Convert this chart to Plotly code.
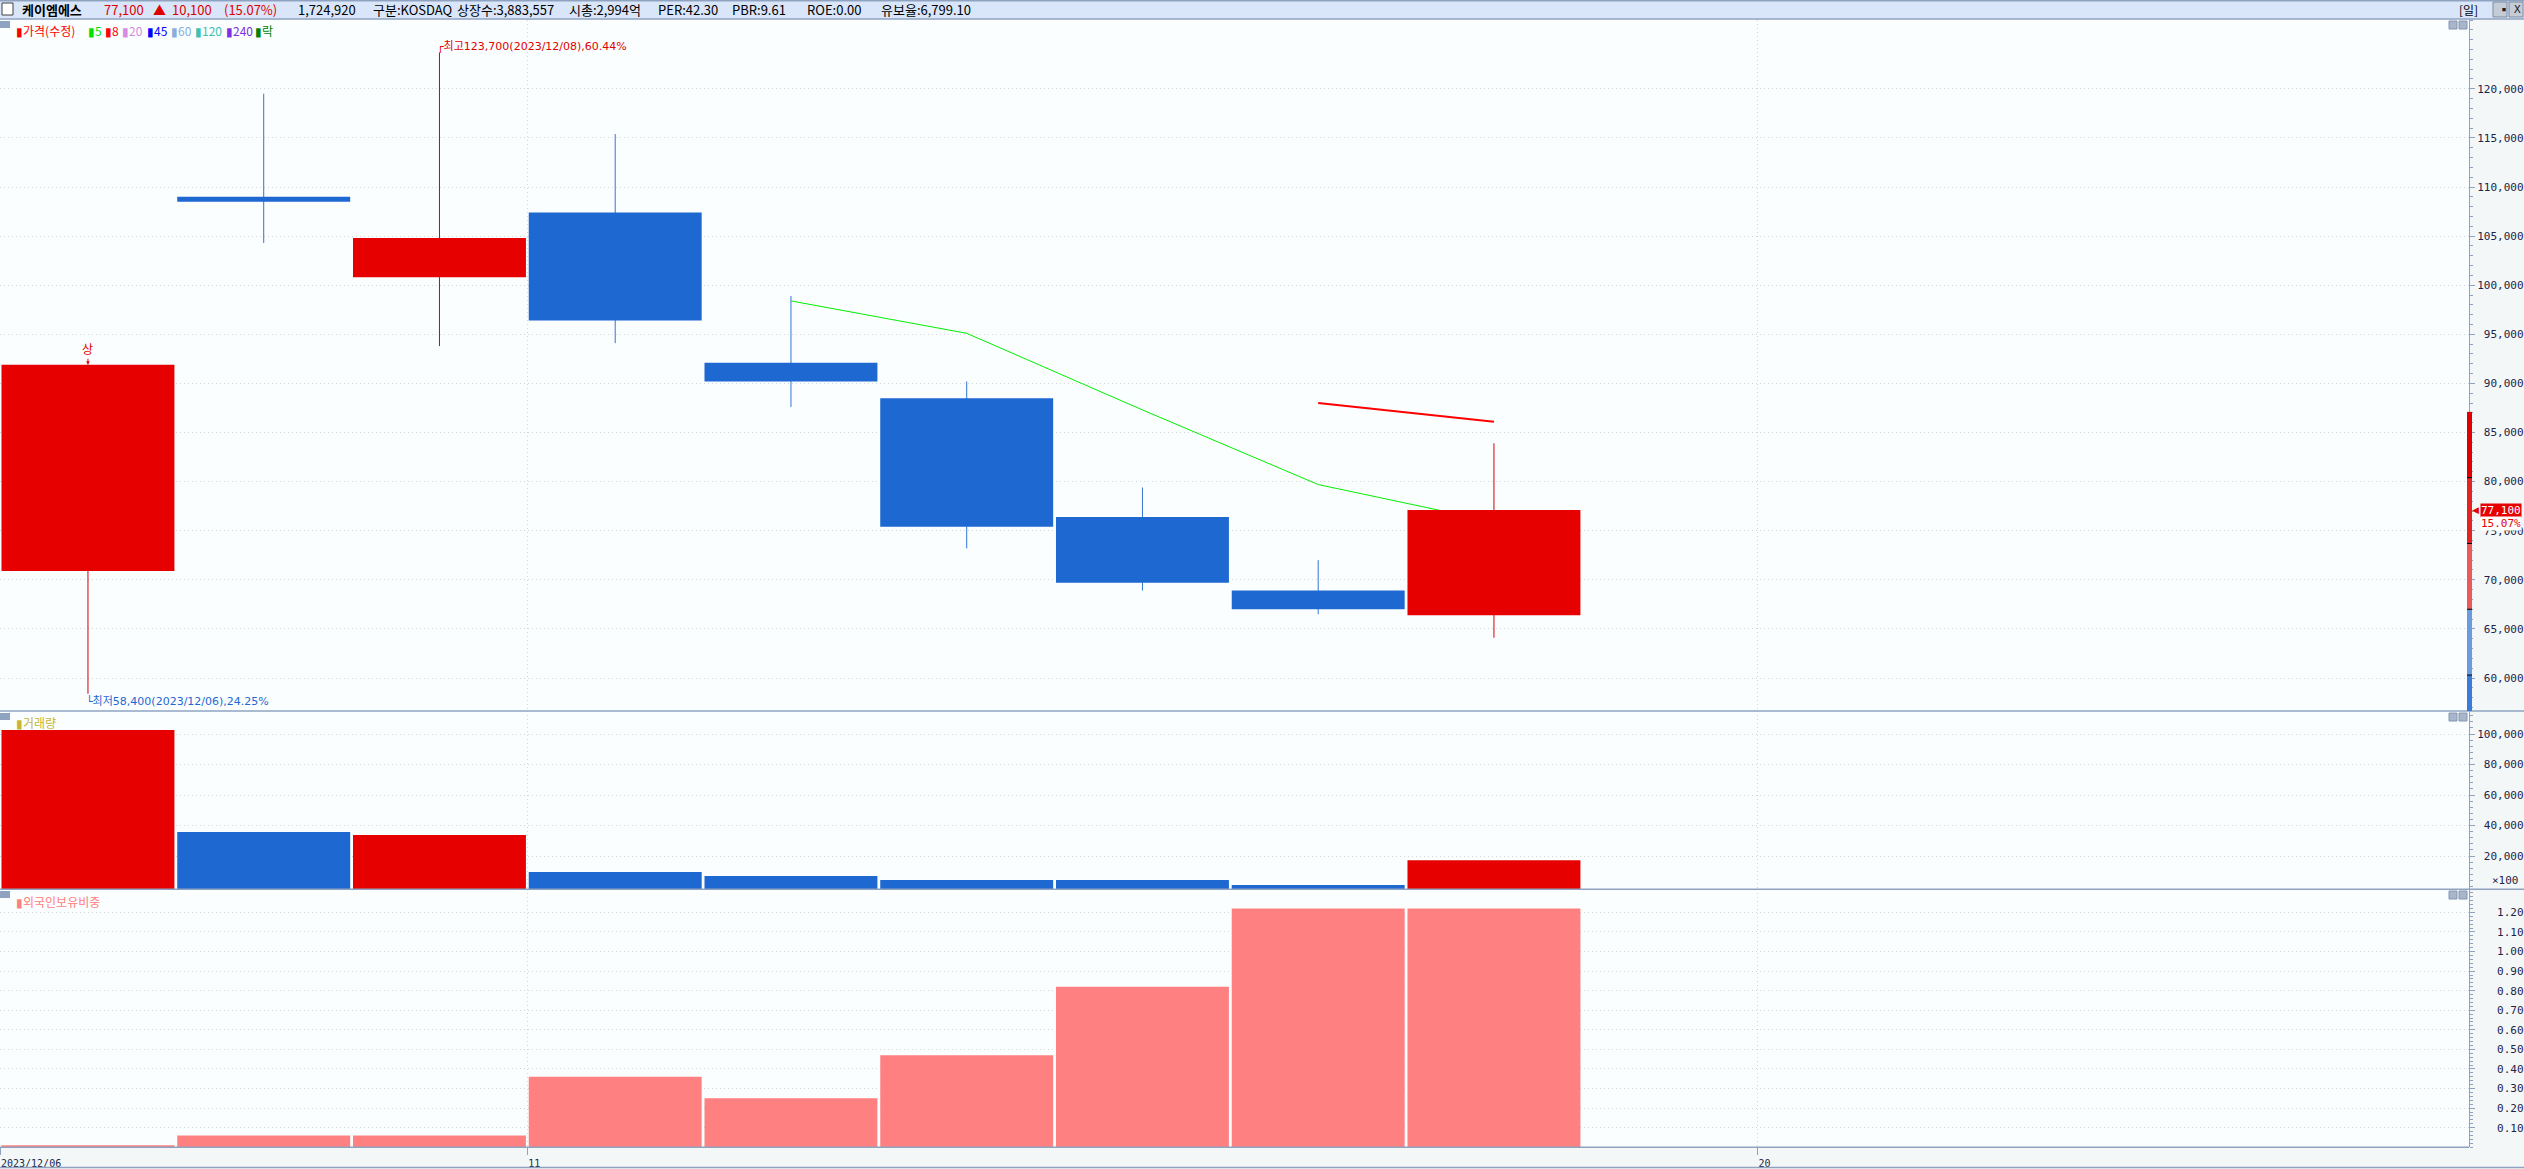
import plotly.graph_objects as go

# ---------------- data ----------------
dates = ["2023/12/06", "2023/12/07", "2023/12/08", "2023/12/11", "2023/12/12",
         "2023/12/13", "2023/12/14", "2023/12/15", "2023/12/18"]
open_p = [70900, 109000, 100800, 107400, 92100, 88500, 76400, 68900, 66400]
high_p = [91900, 119500, 123700, 115400, 98900, 90200, 79400, 72000, 83900]
low_p = [58400, 104300, 93800, 94100, 87600, 73200, 68900, 66500, 64100]
close_p = [91900, 108500, 104800, 96400, 90200, 75400, 69700, 67000, 77100]
volume = [102600, 35700, 33800, 9500, 6900, 4300, 4300, 1000, 17249]   # x100
foreign_pct = [0.01, 0.06, 0.06, 0.36, 0.25, 0.47, 0.82, 1.22, 1.22]
ma5 = [98400, 95100, 87300, 79700, 75900]      # from the 5th day
ma8 = [88000, 86100]                           # from the 8th day
limit_edges = [87100, 80400, 73700, 67000, 60300]

price_ticks = [60000, 65000, 70000, 75000, 80000, 85000, 90000, 95000,
               100000, 105000, 110000, 115000, 120000]
vol_ticks = [20000, 40000, 60000, 80000, 100000]
foreign_ticks = [0.1, 0.2, 0.3, 0.4, 0.5, 0.6, 0.7, 0.8, 0.9, 1.0, 1.1, 1.2]
x_tick_slots = [0, 3, 10]
x_tick_text = ["2023/12/06", "11", "20"]

# ---------------- look ----------------
W, H = 2524, 1169
RED, BLUE = "#e60000", "#1e68d2"
AXC = "#8fa3c0"
GRID = "#d2d6da"
TXT = "#1c2448"
MONO = "DejaVu Sans Mono"
KF = "Noto Sans CJK KR"
NB = "\u00a0"

PRICE_RANGE = [56640, 127006]
VOL_RANGE = [-1836, 115080]
FOR_RANGE = [0, 1.3177]
X_RANGE = [-0.5005, 13.548]
HALF = 0.492


def px(v):
    return v / W


def py(v):
    return 1 - v / H


slots = list(range(len(dates)))
up = [c >= o for o, c in zip(open_p, close_p)]
colors = [RED if u else BLUE for u in up]

fig = go.Figure()

# wicks
for flag, col in ((True, "#d40000"), (False, "#3474d4")):
    wx, wy = [], []
    for i in slots:
        if up[i] == flag:
            wx += [i, i, None]
            wy += [low_p[i], high_p[i], None]
    fig.add_trace(go.Scatter(x=wx, y=wy, mode="lines", line=dict(color=col, width=1),
                             hoverinfo="skip", showlegend=False))

# moving averages (drawn below the candle bodies)
fig.add_trace(go.Scatter(x=slots[4:], y=ma5, mode="lines",
                         line=dict(color="#00f000", width=1), showlegend=False))
fig.add_trace(go.Scatter(x=slots[7:], y=ma8, mode="lines",
                         line=dict(color="#ff0000", width=2), showlegend=False))

# candle bodies as filled boxes
for flag, col in ((True, RED), (False, BLUE)):
    bx, by = [], []
    for i in slots:
        if up[i] == flag:
            o, c = open_p[i], close_p[i]
            bx += [i - HALF, i + HALF, i + HALF, i - HALF, i - HALF, None]
            by += [o, o, c, c, o, None]
    fig.add_trace(go.Scatter(x=bx, y=by, mode="lines", fill="toself", fillcolor=col,
                             line=dict(width=0, color=col), hoverinfo="skip",
                             showlegend=False))

# volume
fig.add_trace(go.Bar(x=slots, y=[v - VOL_RANGE[0] for v in volume], base=VOL_RANGE[0],
                     width=2 * HALF, marker=dict(color=colors, line=dict(width=0)),
                     xaxis="x2", yaxis="y2", showlegend=False))

# foreign ownership
fig.add_trace(go.Bar(x=slots, y=foreign_pct, width=2 * HALF,
                     marker=dict(color="#ff8080", line=dict(width=0)),
                     xaxis="x3", yaxis="y3", showlegend=False))

x_grid = [s - 0.5 for s in x_tick_slots]
xcommon = dict(domain=[0, px(2469)], range=X_RANGE, tickmode="array", tickvals=x_grid,
               showgrid=True, gridcolor=GRID, griddash="1px,3px", gridwidth=1,
               zeroline=False, showline=False, fixedrange=True)


def ycommon(dom, rng, vals, text, minor_dt):
    return dict(domain=dom, range=rng, side="right", tickmode="array", tickvals=vals,
                ticktext=text, ticks="outside", ticklen=5, tickcolor=AXC,
                minor=dict(dtick=minor_dt, ticks="outside", ticklen=3, tickcolor=AXC,
                           showgrid=False),
                showgrid=True, gridcolor=GRID, griddash="1px,3px", gridwidth=1,
                zeroline=False, showline=True, linecolor=AXC, linewidth=1,
                tickfont=dict(family=MONO, size=11, color=TXT), fixedrange=True)


def pad(s, n):
    return NB * (n - len(s)) + s


price_text = [pad(f"{v:,}", 7) for v in price_ticks]
vol_text = [pad(f"{v:,}", 7) for v in vol_ticks]
for_text = [pad(f"{v:.2f}", 7) for v in foreign_ticks]
x_text = [t + NB * (10 - len(t)) for t in x_tick_text]

fig.update_layout(
    width=W, height=H, margin=dict(l=0, r=0, t=0, b=0),
    paper_bgcolor="#f3f7f7", plot_bgcolor="#fbfefe", barmode="overlay",
    showlegend=False, hovermode=False,
    xaxis=dict(xcommon, anchor="y", showticklabels=False, ticks=""),
    xaxis2=dict(xcommon, anchor="y2", matches="x", showticklabels=False, ticks=""),
    xaxis3=dict(xcommon, anchor="y3", matches="x", showticklabels=True, ticktext=x_text,
                ticks="outside", ticklen=7, tickcolor=AXC, ticklabelshift=31,
                ticklabeloverflow="allow",
                tickfont=dict(family=MONO, size=10, color=TXT)),
    yaxis=ycommon([py(711), py(20)], PRICE_RANGE, price_ticks, price_text, 1000),
    yaxis2=ycommon([py(889.3), py(711)], VOL_RANGE, vol_ticks, vol_text, 4000),
    yaxis3=ycommon([py(1147.3), py(889.3)], FOR_RANGE, foreign_ticks, for_text, 0.02),
)

shapes = []


def rect(x0, y0, x1, y1, fill, line=None):
    shapes.append(dict(type="rect", xref="paper", yref="paper", x0=px(x0), x1=px(x1),
                       y0=py(y0), y1=py(y1), fillcolor=fill,
                       line=dict(width=1 if line else 0, color=line or fill)))


def hline(y, x0, x1, col=AXC, w=1.5):
    shapes.append(dict(type="line", xref="paper", yref="paper", x0=px(x0), x1=px(x1),
                       y0=py(y), y1=py(y), line=dict(color=col, width=w)))


# header bar
rect(0, 0, W, 19, "#d9e6fa")
hline(0.7, 0, W)
hline(19, 0, W)
rect(2, 3, 13, 15, "#ffffff", "#404040")
rect(2493, 2, 2507, 17, "#c4ccd8", "#7d8aa0")
rect(2509, 2, 2523, 17, "#c4ccd8", "#7d8aa0")

# panel separators
hline(711, 0, W)
hline(889.3, 0, W)
hline(1147.3, 0, 2469)
hline(1167.5, 0, W)

# panel handles and buttons
for top in (21, 713, 891):
    rect(0, top, 10, top + 7, AXC)
    rect(2449, top, 2457, top + 8, "#a8b6cc", "#8696b0")
    rect(2459, top, 2467, top + 8, "#a8b6cc", "#8696b0")

# price limit band on the right axis
band_cols = ["#e00000", "#e42222", "#ea5a5a", "#6a9ae0", "#3a7ad8"]
edges = limit_edges + [PRICE_RANGE[0]]
for k, col in enumerate(band_cols):
    shapes.append(dict(type="rect", xref="paper", yref="y", x0=px(2467), x1=px(2472),
                       y0=edges[k + 1], y1=edges[k], fillcolor=col, line=dict(width=0)))
for e in limit_edges[1:]:
    shapes.append(dict(type="line", xref="paper", yref="y", x0=px(2467), x1=px(2472),
                       y0=e, y1=e, line=dict(color="#000000", width=1)))
fig.update_layout(shapes=shapes)

ann = []


def text(s, x, y, col="#000000", size=12, fam=KF, **kw):
    d = dict(text=s, x=px(x), y=py(y), xref="paper", yref="paper", showarrow=False,
             xanchor="left", yanchor="middle", font=dict(family=fam, size=size, color=col))
    d.update(kw)
    ann.append(d)


# header texts
header = [("<b>케이엠에스</b>", 20, "#000000"), ("77,100", 102, "#e00000"),
          ("▲", 151, "#e00000"), ("10,100", 170, "#e00000"), ("(15.07%)", 222, "#e00000"),
          ("1,724,920", 296, "#000000"), ("구분:KOSDAQ", 371, "#000000"),
          ("상장수:3,883,557", 455, "#000000"), ("시총:2,994억", 567, "#000000"),
          ("PER:42.30", 656, "#000000"), ("PBR:9.61", 730, "#000000"),
          ("ROE:0.00", 805, "#000000"), ("유보율:6,799.10", 879, "#000000")]
for s, x, c in header:
    text(s, x, 10, c, 13)
text("[일]", 2457, 10, "#000000", 12)
text("▪", 2496, 10, "#202020", 12)
text("X", 2512, 10, "#202020", 11, MONO)

# price legend
legend = [("가격(수정)", "#ff0000", 14), ("5", "#00e000", 86), ("8", "#ff0000", 103),
          ("20", "#d68ae0", 120), ("45", "#0000ff", 145), ("60", "#88aee0", 169),
          ("120", "#40c0b0", 193), ("240", "#8030e0", 224), ("락", "#008000", 253)]
for s, c, x in legend:
    text("▮" + s, x, 30, c, 12)

text("▮거래량", 14, 722, "#c8b432", 12)
text("▮외국인보유비중", 14, 901, "#ff8080", 12)
text("×100", 2521, 880, TXT, 11, MONO, xanchor="right")

# price annotations
ann.append(dict(text="상", x=slots[0], y=high_p[0], xref="x", yref="y", showarrow=True,
                arrowhead=2, arrowsize=0.7, arrowwidth=1, arrowcolor="#e00000",
                ax=0, ay=-16, font=dict(family=KF, size=12, color="#e00000")))
hi_i = high_p.index(max(high_p))
lo_i = low_p.index(min(low_p))
ann.append(dict(text=f"┌최고{high_p[hi_i]:,}({dates[hi_i]}),60.44%", x=slots[hi_i],
                y=high_p[hi_i], xref="x", yref="y", showarrow=False, xanchor="left",
                yanchor="bottom", xshift=-4, yshift=-3,
                font=dict(family="DejaVu Sans, Noto Sans CJK KR", size=11, color="#e00000")))
ann.append(dict(text=f"└최저{low_p[lo_i]:,}({dates[lo_i]}),24.25%", x=slots[lo_i],
                y=low_p[lo_i], xref="x", yref="y", showarrow=False, xanchor="left",
                yanchor="top", xshift=-4, yshift=2,
                font=dict(family="DejaVu Sans, Noto Sans CJK KR", size=11, color="#1e68d2")))

# current price tag
ann.append(dict(text=f"{close_p[-1]:,}", x=px(2522), y=close_p[-1], xref="paper", yref="y",
                showarrow=False, xanchor="right", yanchor="middle", bgcolor="#e60000",
                borderpad=0, font=dict(family=MONO, size=11, color="#ffffff")))
ann.append(dict(text="15.07%", x=px(2522), y=close_p[-1], xref="paper", yref="y",
                showarrow=False, xanchor="right", yanchor="middle", yshift=-13,
                bgcolor="#ffffff", borderpad=0, font=dict(family=MONO, size=11, color="#e60000")))
ann.append(dict(text="◀", x=px(2470), y=close_p[-1], xref="paper", yref="y",
                showarrow=False, xanchor="left", yanchor="middle",
                font=dict(family="DejaVu Sans", size=9, color="#e60000")))

fig.update_layout(annotations=ann)

fig.write_html("out.html", config={"displayModeBar": False},
               post_script="document.body.style.margin='0px';document.body.style.overflow='hidden';")
